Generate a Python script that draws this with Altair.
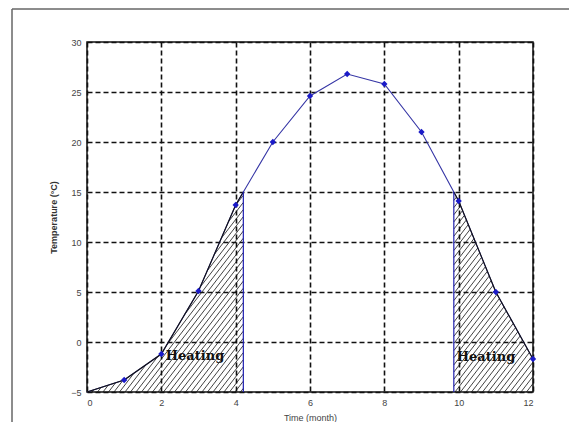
import altair as alt
import pandas as pd
import numpy as np

# ---- data ----
months = [0, 1, 2, 3, 4, 5, 6, 7, 8, 9, 10, 11, 12]
temps = [-5.0, -3.8, -1.2, 5.1, 13.7, 20.0, 24.6, 26.8, 25.8, 21.0, 14.1, 5.0, -1.7]
marker_months = months[1:]
marker_temps = temps[1:]
threshold = 15.0
x_ticks = [0, 2, 4, 6, 8, 10, 12]
y_ticks = [-5, 0, 5, 10, 15, 20, 25, 30]
label_text = ["Heating", "Heating"]
label_x = [2.12, 9.95]
label_y = [-1.4, -1.5]

X_DOM = [0, 12]
Y_DOM = [-5, 30]
W, H = 446, 350

# ---- derived tables ----
m = np.array(months, dtype=float)
t = np.array(temps, dtype=float)

def crossing(i):
    return m[i] + (threshold - t[i]) / (t[i + 1] - t[i])

xc1 = crossing(4)   # rising through threshold
xc2 = crossing(9)   # falling through threshold

curve = pd.DataFrame({"month": months, "temp": temps})
markers = pd.DataFrame({"month": marker_months, "temp": marker_temps})

left_edge = pd.DataFrame({"month": months[:5] + [xc1], "temp": temps[:5] + [threshold], "o": range(6)})
right_edge = pd.DataFrame({"month": [xc2] + months[10:], "temp": [threshold] + temps[10:], "o": range(4)})

bounds = pd.DataFrame({"x": [xc1, xc2], "y": [Y_DOM[0]] * 2, "y2": [threshold] * 2})

# hatch lines (pattern fill of the regions below the curve)
px_x = W / (X_DOM[1] - X_DOM[0])
px_y = H / (Y_DOM[1] - Y_DOM[0])
slope = 1.3 * px_x / px_y          # pixel slope ~1.3
step = 5.5 / px_x                   # ~5.5 px apart horizontally
segs = []
for a, b in [(X_DOM[0], xc1), (xc2, X_DOM[1])]:
    xs = np.linspace(a, b, 4000)
    fx = np.interp(xs, m, t)
    for x0 in np.arange(-12, 13, step):
        yl = Y_DOM[0] + slope * (xs - x0)
        inside = (yl >= Y_DOM[0] - 1e-9) & (yl <= fx)
        if not inside.any():
            continue
        idx = np.where(inside)[0]
        runs = np.split(idx, np.where(np.diff(idx) > 1)[0] + 1)
        for r in runs:
            if len(r) < 2:
                continue
            i0, i1 = r[0], r[-1]
            segs.append({"x1": xs[i0], "y1": yl[i0], "x2": xs[i1], "y2": yl[i1]})
hatch = pd.DataFrame(segs)

labels = pd.DataFrame({"x": label_x, "y": label_y, "text": label_text})

# ---- scales / axes ----
xs_ = alt.Scale(domain=X_DOM, nice=False, zero=False)
ys_ = alt.Scale(domain=Y_DOM, nice=False, zero=False)

x_axis = alt.Axis(values=x_ticks, title="Time (month)", grid=True, gridDash=[5, 3],
                  gridColor="#111", gridWidth=1.6, ticks=False, domain=False,
                  labelPadding=6, labelFontSize=9, labelColor="#444",
                  titleFontSize=9, titleFontWeight="normal", titleColor="#444",
                  titlePadding=6, labelFont="Liberation Sans", titleFont="Liberation Sans")
y_axis = alt.Axis(values=y_ticks, title="Temperature (°C)", grid=True, gridDash=[5, 3],
                  gridColor="#111", gridWidth=1.6, ticks=False, domain=False,
                  labelPadding=6, labelFontSize=9, labelColor="#444",
                  titleFontSize=9, titleFontWeight="bold", titleColor="#333",
                  titlePadding=12, labelFont="Liberation Sans", titleFont="Liberation Sans")

hatch_layer = alt.Chart(hatch).mark_rule(color="#111", strokeWidth=0.8).encode(
    x=alt.X("x1:Q", scale=xs_, axis=x_axis), x2="x2:Q",
    y=alt.Y("y1:Q", scale=ys_, axis=y_axis), y2="y2:Q")

line_layer = alt.Chart(curve).mark_line(color="#3535a5", strokeWidth=1.1).encode(
    x=alt.X("month:Q", scale=xs_), y=alt.Y("temp:Q", scale=ys_), order="month:Q")

edge_l = alt.Chart(left_edge).mark_line(color="#111", strokeWidth=1.1).encode(
    x=alt.X("month:Q", scale=xs_), y=alt.Y("temp:Q", scale=ys_), order="o:Q")
edge_r = alt.Chart(right_edge).mark_line(color="#111", strokeWidth=1.1).encode(
    x=alt.X("month:Q", scale=xs_), y=alt.Y("temp:Q", scale=ys_), order="o:Q")

bound_layer = alt.Chart(bounds).mark_rule(color="#2020b0", strokeWidth=1.2).encode(
    x=alt.X("x:Q", scale=xs_), y=alt.Y("y:Q", scale=ys_), y2="y2:Q")

marker_layer = alt.Chart(markers).mark_point(shape="diamond", filled=True, color="#1a1ac8",
                                             size=40, opacity=1).encode(
    x=alt.X("month:Q", scale=xs_), y=alt.Y("temp:Q", scale=ys_))

text_layer = alt.Chart(labels).mark_text(align="left", baseline="middle", font="DejaVu Serif",
                                         fontWeight="bold", fontSize=13, color="#111").encode(
    x=alt.X("x:Q", scale=xs_), y=alt.Y("y:Q", scale=ys_), text="text:N")

frame_v = alt.Chart(labels).mark_rule(color="#666", strokeWidth=1).encode(
    x=alt.value(-75), y=alt.value(-33), y2=alt.value(420))
frame_h = alt.Chart(labels).mark_rule(color="#666", strokeWidth=1).encode(
    x=alt.value(-75), x2=alt.value(520), y=alt.value(-33))

chart = alt.layer(
    hatch_layer, line_layer, edge_l, edge_r, bound_layer, marker_layer, text_layer,
    frame_v, frame_h
).properties(
    width=W, height=H,
    autosize=alt.AutoSizeParams(type="none"),
    padding={"left": 79, "top": 34, "right": 36, "bottom": 30},
    background="white",
).configure_view(stroke="#111", strokeWidth=1.5)

chart.save("out.html", embed_options={"renderer": "svg", "actions": False})
